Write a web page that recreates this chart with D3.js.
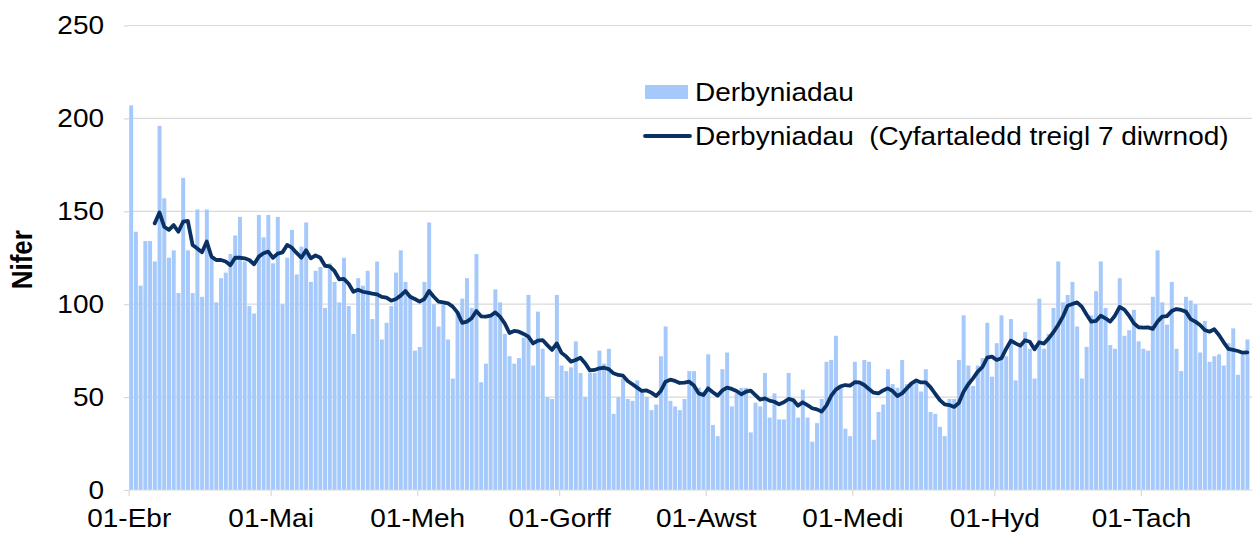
<!DOCTYPE html>
<html>
<head>
<meta charset="utf-8">
<script src="https://cdn.jsdelivr.net/npm/d3@7"></script>
<style>
  body { margin: 0; background: #fff; }
  svg { display: block; font-family: "Liberation Sans", Arial, sans-serif; }
</style>
</head>
<body>
<svg id="chart" width="1252" height="534"></svg>
<script>
// daily admissions, 01-Apr to 23-Nov
const april = [207,139,110,134,134,123,196,157,125,129,106,168,129,106,151,104,151,125,101,114,117,127,137,147,123,99,95,148,136,148];
const may = [122,147,100,125,140,116,131,144,112,118,120,98,122,112,101,125,99,84,114,110,118,92,123,81,90,99,117,129,112,105,75];
const june = [77,112,144,100,88,100,81,60,96,103,114,98,127,58,68,94,108,101,84,72,68,71,82,105,67,96,76,50,49,105];
const july = [67,64,66,80,63,50,63,63,75,68,76,41,50,60,49,48,59,53,50,43,46,72,88,48,45,43,49,64,64,55,53];
const august = [73,35,29,65,74,45,52,55,55,31,47,45,63,39,52,38,38,63,49,39,54,39,26,36,49,69,70,83,55,33,29];
const september = [69,58,70,69,27,42,46,65,57,55,70,57,58,58,53,65,42,41,34,29,49,49,70,94,67,56,67,71,90,61];
const october = [79,94,72,92,59,77,85,76,60,103,76,84,98,123,101,105,112,88,60,77,94,107,123,98,78,76,114,83,86,97,80];
const november = [76,75,104,129,101,89,112,76,64,104,102,100,74,91,69,72,73,67,79,87,62,73,81];

// 7-day rolling average, first value is 06-Apr
const avgStart = 5;
const avg7 = [143.5,149.4,141.7,140,142.6,139,144.4,144.8,131.9,130,128,133.7,125.6,123.8,123.8,123,121,125,125,124.7,123.8,121.5,125.6,127.4,128.3,
  125,127.2,127.9,131.9,130.4,127.6,125,129,124.7,126.3,125,120.7,120.4,117.9,113.4,113.6,111,106.7,107.8,106.7,106.2,105.7,105.3,103.9,103.5,101.9,102.8,104.6,107.1,104,102.8,
  101.4,102.8,107.1,104,101.4,101,100.5,98.7,95.6,90,90.6,92.4,96.3,93.5,93.3,93.8,95.6,93.3,89.7,84.5,85.6,85.2,84,82.5,78.9,80.4,80.7,78,75.4,78.9,
  73.8,71.8,69.1,70,71.2,68.2,64.4,64.6,65.5,65.8,65.1,62.8,61.9,61.5,58.7,56.9,55.1,53.3,53.6,52.4,50.6,53.3,58.3,59.4,58.7,57.6,57.8,58.3,56.2,52,51.1,
  54.7,52.6,50.8,53.6,55.1,54.4,53.3,51.5,52.9,53.5,51.1,48.6,49.3,48.1,47.5,46.1,47.2,49,48.4,45.4,47.2,45.7,44,43.4,42.2,45.4,50.6,54,55.8,56.5,56.2,
  58,57.9,56.5,54.4,52.4,52,53.6,54.7,53.3,50.6,52,54.7,57.4,59,57.9,57.9,55.4,51.8,48.4,46.1,45.7,44.7,46.8,52.9,56.9,60.1,63.7,66.2,71.2,71.8,
  70,70.9,75.9,80.4,78.9,77.7,80.6,79.8,75.7,79.5,78.8,81.6,84.9,88.8,93.3,99.2,100.1,101,98.7,94.5,90.6,91,93.8,92.4,90.6,93.8,98.5,97.1,93.8,89.7,87.6,
  87.4,87.5,86.7,90.6,93.3,93.6,96.3,97.4,96.9,96,92,90.6,88.8,86.1,85.2,86.5,83.4,79.5,75.9,75.4,74.8,73.9,74.1];

const monthLabels = ["01-Ebr","01-Mai","01-Meh","01-Gorff","01-Awst","01-Medi","01-Hyd","01-Tach"];
const yTicks = [0, 50, 100, 150, 200, 250];
const seriesNames = ["Derbyniadau", "Derbyniadau  (Cyfartaledd treigl 7 diwrnod)"];

document.addEventListener('DOMContentLoaded', function () {
    drawChart();
});

function drawChart() {
    const months = [april, may, june, july, august, september, october, november];
    const values = months.flat();
    const nDays = values.length;

    // index of the first day of each month
    const monthStarts = [];
    let acc = 0;
    months.forEach(m => { monthStarts.push(acc); acc += m.length; });

    const svg = d3.select('#chart');
    const left = 128.7, right = left + nDays * 4.73;
    const top = 25.5, bottom = 490;
    const sx = 1.12; // the source picture is a little stretched sideways
    const fontSize = '25px';

    const xBand = d3.scaleBand().domain(d3.range(nDays)).range([left, right]).paddingInner(0.2).paddingOuter(0.1);
    const xLin = d3.scaleLinear().domain([0, nDays]).range([left, right]);
    const y = d3.scaleLinear().domain([0, 250]).range([bottom, top]);

    // gridlines
    svg.append('g').selectAll('line')
        .data(yTicks.filter(d => d > 0))
        .enter().append('line')
        .attr('x1', left).attr('x2', 1252)
        .attr('y1', d => y(d)).attr('y2', d => y(d))
        .attr('stroke', '#d9d9d9').attr('stroke-width', 1.2);

    // bars
    svg.append('g').selectAll('rect')
        .data(values)
        .enter().append('rect')
        .attr('x', (d, i) => xBand(i))
        .attr('width', xBand.bandwidth() + 0.2)
        .attr('y', d => y(d))
        .attr('height', d => bottom - y(d))
        .attr('fill', '#a6c9fb');

    // 7 day average
    const line = d3.line()
        .x((d, i) => xLin(i + avgStart + 0.5))
        .y(d => y(d));
    svg.append('path')
        .datum(avg7)
        .attr('d', line)
        .attr('fill', 'none')
        .attr('stroke', '#0a3164')
        .attr('stroke-width', 3.8)
        .attr('stroke-linejoin', 'round')
        .attr('stroke-linecap', 'round');

    // x axis
    const xAxis = d3.axisBottom(xLin)
        .tickValues(monthStarts)
        .tickFormat((d, i) => monthLabels[i])
        .tickSize(6)
        .tickPadding(13)
        .tickSizeOuter(0);
    const gx = svg.append('g')
        .attr('transform', `translate(0,${bottom})`)
        .call(xAxis);
    gx.select('.domain').attr('stroke', '#d9d9d9').attr('stroke-width', 1.2).attr('d', `M${left},0H1252`);
    gx.selectAll('.tick line').attr('stroke', '#d9d9d9').attr('stroke-width', 1.2);
    gx.selectAll('text')
        .style('font-size', fontSize)
        .attr('fill', '#000')
        .attr('transform', `scale(${sx},1)`);

    // y axis
    const yAxis = d3.axisLeft(y)
        .tickValues(yTicks)
        .tickSize(5)
        .tickPadding(17)
        .tickSizeOuter(0);
    const gy = svg.append('g')
        .attr('transform', `translate(${left},0)`)
        .call(yAxis);
    gy.select('.domain').remove();
    gy.selectAll('.tick line').attr('stroke', '#d9d9d9').attr('stroke-width', 1.2);
    gy.selectAll('text')
        .style('font-size', fontSize)
        .attr('fill', '#000')
        .attr('transform', `scale(${sx},1)`);

    svg.append('text')
        .attr('transform', `translate(32,${(top + bottom) / 2 + 2}) scale(${sx},1) rotate(-90)`)
        .attr('text-anchor', 'middle')
        .style('font-size', '26px')
        .style('font-weight', 'bold')
        .text('Nifer');

    // legend
    const lg = svg.append('g');
    lg.append('rect')
        .attr('x', 645).attr('y', 85).attr('width', 43).attr('height', 14)
        .attr('fill', '#a6c9fb');
    lg.append('line')
        .attr('x1', 645).attr('x2', 690).attr('y1', 136).attr('y2', 136)
        .attr('stroke', '#0a3164').attr('stroke-width', 3.8).attr('stroke-linecap', 'round');
    lg.selectAll('text.leg')
        .data(seriesNames)
        .enter().append('text')
        .attr('class', 'leg')
        .attr('transform', (d, i) => `translate(695,${i === 0 ? 101 : 145}) scale(${sx},1)`)
        .style('font-size', fontSize)
        .style('white-space', 'pre')
        .attr('xml:space', 'preserve')
        .text(d => d);
}
</script>
</body>
</html>
